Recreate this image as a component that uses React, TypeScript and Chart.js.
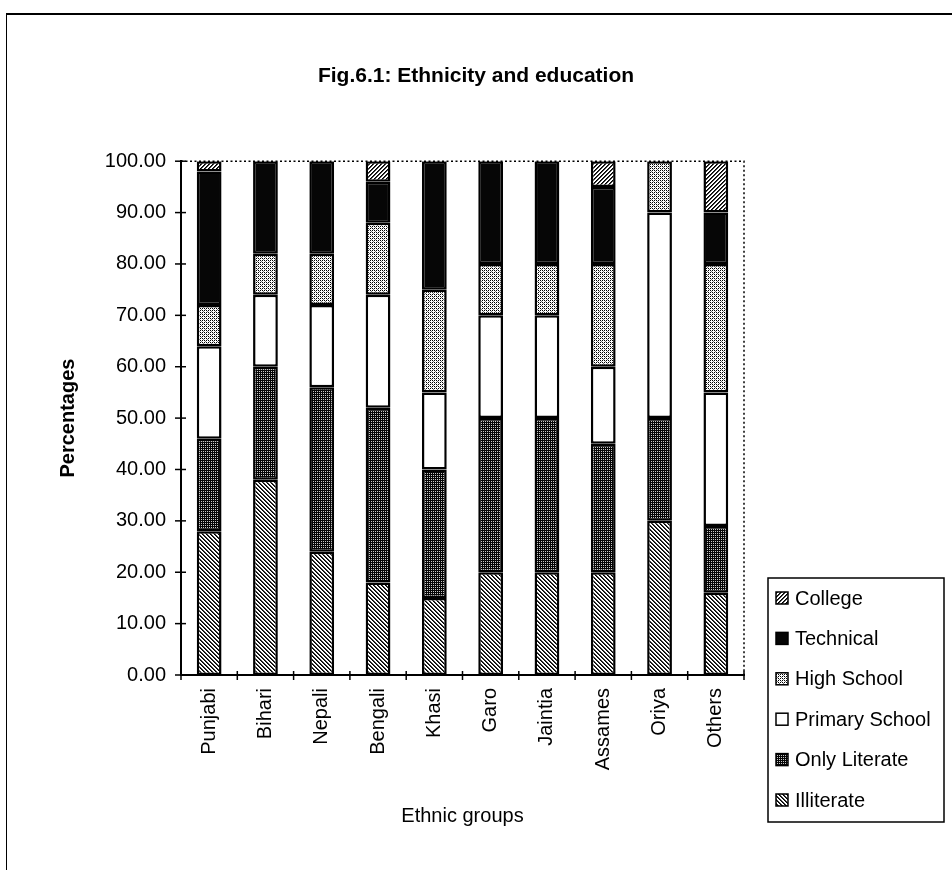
import React, { useEffect, useRef } from "react";
import { Chart, registerables } from "chart.js";

Chart.register(...registerables);

// Ethnic groups on the category axis
const groups = ["Punjabi", "Bihari", "Nepali", "Bengali", "Khasi", "Garo", "Jaintia", "Assames", "Oriya", "Others"];

// Share (%) of each education level within each group, bottom of stack first
const illiterate = [28, 38, 24, 18, 15, 20, 20, 20, 30, 16];
const onlyLiterate = [18, 22, 32, 34, 25, 30, 30, 25, 20, 13];
const primarySchool = [18, 14, 16, 22, 15, 20, 20, 15, 40, 26];
const highSchool = [8, 8, 10, 14, 20, 10, 10, 20, 10, 25];
const technical = [26, 18, 18, 8, 25, 20, 20, 15, 0, 10];
const college = [2, 0, 0, 4, 0, 0, 0, 5, 0, 10];

const yMin = 0;
const yMax = 100;
const yStep = 10;

const FONT = '"Liberation Sans", Arial, Helvetica, sans-serif';

type Painter = (x: number, y: number) => string | null;

// Builds a small repeating monochrome tile used as a bar fill
function makePattern(size: number, bg: string, paint: Painter): CanvasPattern | string {
  const tile = document.createElement("canvas");
  tile.width = size;
  tile.height = size;
  const t = tile.getContext("2d");
  if (!t) return bg;
  t.fillStyle = bg;
  t.fillRect(0, 0, size, size);
  for (let y = 0; y < size; y++) {
    for (let x = 0; x < size; x++) {
      const c = paint(x, y);
      if (c) {
        t.fillStyle = c;
        t.fillRect(x, y, 1, 1);
      }
    }
  }
  const probe = document.createElement("canvas").getContext("2d");
  return (probe && probe.createPattern(tile, "repeat")) || bg;
}

function buildFills() {
  // back-slanted hatch
  const illiterateFill = makePattern(4, "#ffffff", (x, y) => {
    const k = (x - y + 8) % 4;
    return k === 0 ? "#000000" : k === 1 ? "#3c3c3c" : null;
  });
  // near-black with fine light speckles
  const onlyLiterateFill = makePattern(4, "#050505", (x, y) =>
    x % 2 === 1 && y % 2 === 1 ? "#c8c8c8" : null
  );
  // light dotted screen
  const highSchoolFill = makePattern(4, "#ffffff", (x, y) => {
    if (x % 2 === 0 && y % 2 === 0) return "#000000";
    if ((x + y) % 4 === 2) return "#7a7a7a";
    return null;
  });
  // forward-slanted hatch
  const collegeFill = makePattern(4, "#ffffff", (x, y) => {
    const k = (x + y) % 4;
    return k === 0 ? "#000000" : k === 1 ? "#3c3c3c" : null;
  });
  return {
    illiterateFill,
    onlyLiterateFill,
    primaryFill: "#ffffff",
    highSchoolFill,
    technicalFill: "#060606",
    collegeFill,
  };
}

// Plot-area border (dotted top/right) and axis tick marks crossing the axis lines
const frameAndTicks = {
  id: "frameAndTicks",
  afterDraw(chart: any) {
    const { ctx, chartArea } = chart;
    const { left, right, top, bottom } = chartArea;
    ctx.save();
    ctx.strokeStyle = "#000";
    ctx.lineWidth = 1.5;
    ctx.setLineDash([2, 2.5]);
    ctx.beginPath();
    ctx.moveTo(left, top);
    ctx.lineTo(right, top);
    ctx.lineTo(right, bottom);
    ctx.stroke();
    ctx.setLineDash([]);

    ctx.lineWidth = 1.5;
    const yScale = chart.scales.y;
    yScale.ticks.forEach((_t: any, i: number) => {
      const py = yScale.getPixelForTick(i);
      ctx.beginPath();
      ctx.moveTo(left - 6, py);
      ctx.lineTo(left + 5, py);
      ctx.stroke();
    });

    const xScale = chart.scales.x;
    const n = xScale.ticks.length;
    const half = (xScale.getPixelForTick(1) - xScale.getPixelForTick(0)) / 2;
    for (let i = 0; i <= n; i++) {
      const px = i < n ? xScale.getPixelForTick(i) - half : xScale.getPixelForTick(n - 1) + half;
      ctx.beginPath();
      ctx.moveTo(px, bottom - 4);
      ctx.lineTo(px, bottom + 5);
      ctx.stroke();
    }
    ctx.restore();
  },
};

// Boxed legend listing the series from the top of the stack down
const boxedLegend = {
  id: "boxedLegend",
  afterDraw(chart: any) {
    const { ctx, chartArea } = chart;
    const sets = chart.data.datasets;
    const boxLeft = chartArea.right + 24;
    const boxTop = chartArea.bottom - 97;
    const boxWidth = 176;
    const row = 40.4;
    const firstRow = 20;
    const boxHeight = firstRow + row * (sets.length - 1) + 22;
    ctx.save();
    ctx.fillStyle = "#fff";
    ctx.fillRect(boxLeft, boxTop, boxWidth, boxHeight);
    ctx.strokeStyle = "#000";
    ctx.lineWidth = 1.5;
    ctx.strokeRect(boxLeft, boxTop, boxWidth, boxHeight);
    ctx.font = `20px ${FONT}`;
    ctx.textBaseline = "middle";
    ctx.textAlign = "left";
    for (let k = 0; k < sets.length; k++) {
      const ds = sets[sets.length - 1 - k];
      const cy = boxTop + firstRow + row * k;
      ctx.fillStyle = ds.backgroundColor;
      ctx.fillRect(boxLeft + 8, cy - 6, 12, 12);
      ctx.lineWidth = 1.5;
      ctx.strokeRect(boxLeft + 8, cy - 6, 12, 12);
      ctx.fillStyle = "#000";
      ctx.fillText(ds.label, boxLeft + 27, cy + 1);
    }
    ctx.restore();
  },
};

export default function App() {
  const canvasRef = useRef<HTMLCanvasElement | null>(null);

  useEffect(() => {
    const canvas = canvasRef.current;
    if (!canvas) return;
    const f = buildFills();
    const common = { borderColor: "#000", borderWidth: 2.5, borderSkipped: false as const };
    const chart = new Chart(canvas, {
      type: "bar",
      data: {
        labels: groups,
        datasets: [
          { label: "Illiterate", data: illiterate, backgroundColor: f.illiterateFill as any, ...common },
          { label: "Only Literate", data: onlyLiterate, backgroundColor: f.onlyLiterateFill as any, ...common },
          { label: "Primary School", data: primarySchool, backgroundColor: f.primaryFill, ...common },
          { label: "High School", data: highSchool, backgroundColor: f.highSchoolFill as any, ...common },
          { label: "Technical", data: technical, backgroundColor: f.technicalFill, ...common },
          { label: "College", data: college, backgroundColor: f.collegeFill as any, ...common },
        ],
      },
      options: {
        responsive: false,
        animation: false,
        layout: { padding: 0 },
        datasets: { bar: { barPercentage: 0.44, categoryPercentage: 1 } },
        plugins: {
          legend: { display: false },
          tooltip: { enabled: false },
          title: {
            display: true,
            text: "Fig.6.1: Ethnicity and education",
            color: "#000",
            font: { family: FONT, size: 21, weight: "bold" },
            padding: { top: 64, bottom: 72 },
          },
        },
        scales: {
          x: {
            stacked: true,
            grid: { display: false, drawTicks: false },
            border: { display: true, color: "#000", width: 2 },
            ticks: {
              color: "#000",
              font: { family: FONT, size: 20 },
              minRotation: 90,
              maxRotation: 90,
              autoSkip: false,
              padding: 13,
            },
            title: {
              display: true,
              text: "Ethnic groups",
              color: "#000",
              font: { family: FONT, size: 20 },
              padding: { top: 0, bottom: 42 },
            },
            afterFit(scale: any) {
              scale.height = 195;
            },
          },
          y: {
            stacked: true,
            min: yMin,
            max: yMax,
            grid: { display: false, drawTicks: false },
            border: { display: true, color: "#000", width: 2 },
            ticks: {
              stepSize: yStep,
              color: "#000",
              font: { family: FONT, size: 20 },
              padding: 15,
              callback: (v: any) => Number(v).toFixed(2),
            },
            title: {
              display: true,
              text: "Percentages",
              color: "#000",
              font: { family: FONT, size: 20, weight: "bold" },
              padding: { top: 56, bottom: 0 },
            },
            afterFit(scale: any) {
              scale.width = 181;
            },
          },
          side: {
            position: "right",
            display: true,
            grid: { display: false, drawTicks: false },
            border: { display: false },
            ticks: { display: false },
            afterFit(scale: any) {
              scale.width = 208;
            },
          },
        },
      },
      plugins: [frameAndTicks, boxedLegend],
    } as any);
    return () => chart.destroy();
  }, []);

  return (
    <div style={{ position: "absolute", left: 0, top: 0, width: 952, height: 870, background: "#fff", overflow: "hidden" }}>
      <div
        style={{
          position: "absolute",
          left: 6,
          top: 13,
          width: 960,
          height: 880,
          borderTop: "2px solid #000",
          borderLeft: "1.5px solid #000",
        }}
      />
      <canvas
        ref={canvasRef}
        width={952}
        height={870}
        style={{ position: "absolute", left: 0, top: 0, width: 952, height: 870 }}
      />
    </div>
  );
}
